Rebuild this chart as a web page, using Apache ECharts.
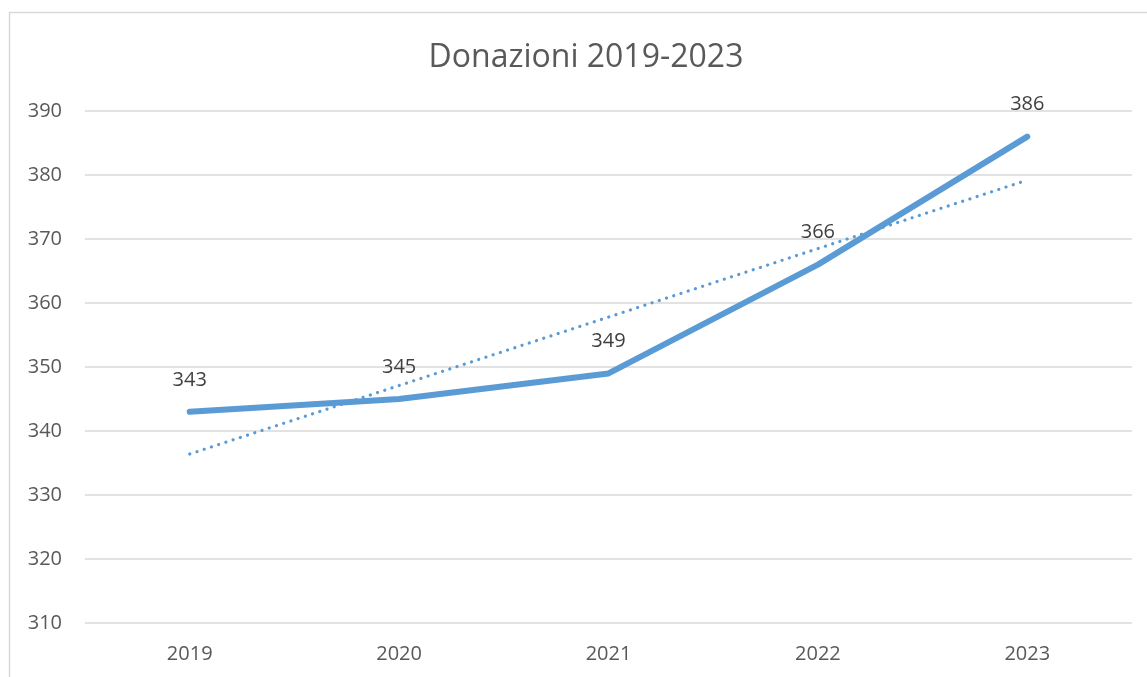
<!DOCTYPE html>
<html><head><meta charset="utf-8">
<script src="https://cdn.jsdelivr.net/npm/echarts@6/dist/echarts.min.js"></script>
<style>html,body{margin:0;padding:0;background:#fff}#c{width:1147px;height:677px}</style>
</head><body><div id="c"></div>
<script>
const categories = ['2019','2020','2021','2022','2023'];
const donations = [343, 345, 349, 366, 386];
const trendValues = [336.4, 347.1, 357.8, 368.5, 379.2];
const yTicks = {min: 310, max: 390, interval: 10};

const chart = echarts.init(document.getElementById('c'));
chart.setOption({
  animation: false,
  backgroundColor: '#fff',
  graphic: [{type:'rect', shape:{x:9.5,y:12.5,width:1200,height:700}, style:{fill:'none',stroke:'#d9d9d9',lineWidth:1.5}}],
  title: {text:'Donazioni 2019-2023', left:581, top:37, textAlign:'center',
    textStyle:{fontFamily:'Open Sans', fontWeight:'normal', fontSize:32, color:'#595959'}},
  grid: {left:85, right:15, top:111, bottom:54},
  xAxis: {type:'category', data:categories, boundaryGap:true,
    axisLine:{show:false}, axisTick:{show:false},
    axisLabel:{fontFamily:'Open Sans', fontSize:20, color:'#595959', margin:21}},
  yAxis: {type:'value', min:yTicks.min, max:yTicks.max, interval:yTicks.interval,
    axisLine:{show:false}, axisTick:{show:false},
    splitLine:{lineStyle:{color:'#d9d9d9', width:1.5}},
    axisLabel:{fontFamily:'Open Sans', fontSize:20, color:'#595959', margin:23}},
  series: [
    {type:'line', data:trendValues, symbol:'none', silent:true,
      lineStyle:{color:'#5b9bd5', width:3.2, type:[0.1,7.5], cap:'round'}, z:2},
    {type:'line', data:donations, symbol:'circle', symbolSize:2, showSymbol:true,
      itemStyle:{color:'rgba(0,0,0,0)', borderWidth:0},
      lineStyle:{color:'#5b9bd5', width:6, cap:'round', join:'round'}, z:3,
      label:{show:true, position:'top', distance:21, fontFamily:'Open Sans', fontSize:20, color:'#404040'}}
  ]
});
</script></body></html>
